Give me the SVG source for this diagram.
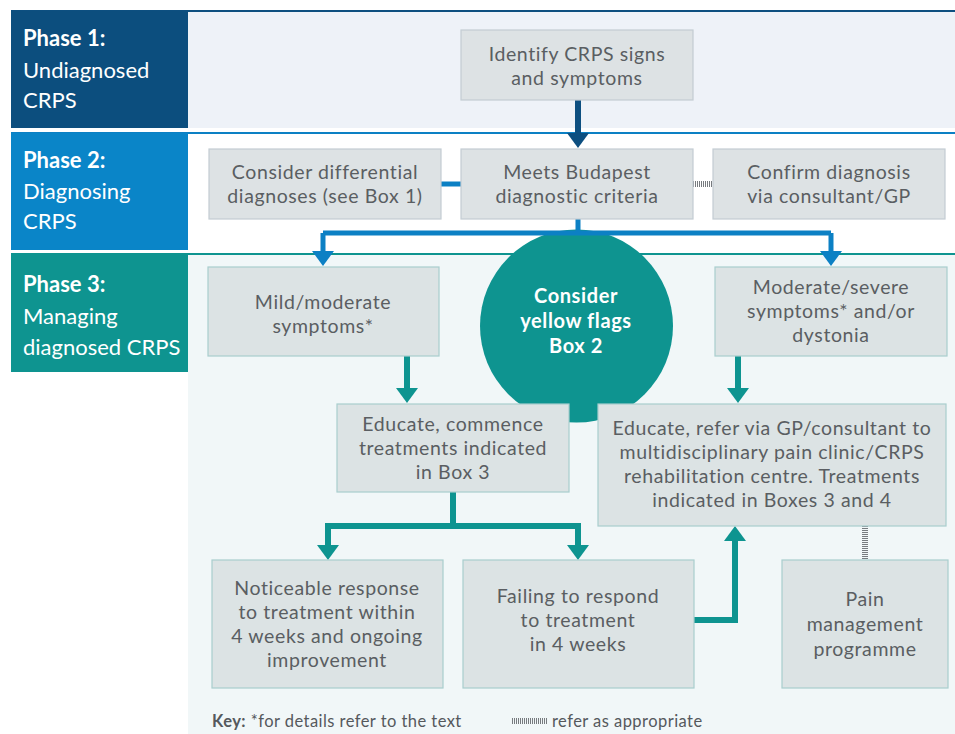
<svg xmlns="http://www.w3.org/2000/svg" width="955" height="734" viewBox="0 0 955 734">
<defs>
<style>
.box{fill:#dde2e4;stroke:#c3ccd3;stroke-width:1.2}
.box3{fill:#dce3e4;stroke:#a8cdce;stroke-width:1.2}
.t{font-family:"Lato","Open Sans",sans-serif;font-size:19.5px;letter-spacing:0.6px;fill:#5a5e62;text-anchor:middle}
.ph{font-family:"Lato","Open Sans",sans-serif;font-size:22px;fill:#ffffff}
.phb{font-weight:bold}
.ct{font-family:"Lato","Open Sans",sans-serif;font-size:20px;letter-spacing:0.6px;font-weight:bold;fill:#ffffff;text-anchor:middle}
.key{font-family:"Lato","Open Sans",sans-serif;font-size:16.5px;letter-spacing:0.45px;fill:#55595d}
.c1{fill:none;stroke:#0d4f80;stroke-width:6}
.c2{fill:none;stroke:#0c80c4;stroke-width:5}
.c3{fill:none;stroke:#0e9490;stroke-width:6}
.dot{fill:none;stroke:#777b7f;stroke-width:6;stroke-dasharray:1 1}
</style>
<marker id="a1" viewBox="0 0 15 22" refX="5" refY="11" markerWidth="15" markerHeight="22" orient="auto" markerUnits="userSpaceOnUse"><path d="M0,0 L15,11 L0,22 z" fill="#0d4f80"/></marker>
<marker id="a2" viewBox="0 0 15 22" refX="5" refY="11" markerWidth="15" markerHeight="22" orient="auto" markerUnits="userSpaceOnUse"><path d="M0,0 L15,11 L0,22 z" fill="#0c80c4"/></marker>
<marker id="a3" viewBox="0 0 15 22" refX="5" refY="11" markerWidth="15" markerHeight="22" orient="auto" markerUnits="userSpaceOnUse"><path d="M0,0 L15,11 L0,22 z" fill="#0e9490"/></marker>
</defs>
<rect width="955" height="734" fill="#ffffff"/>
<g id="bands">
<rect x="188" y="12" width="767" height="116" fill="#eef2f8"/>
<rect x="188" y="255" width="767" height="479" fill="#f1f7f8"/>
<line x1="11" y1="11" x2="955" y2="11" stroke="#0d4f80" stroke-width="2"/>
<line x1="11" y1="133" x2="955" y2="133" stroke="#0c80c4" stroke-width="2"/>
<line x1="11" y1="254" x2="955" y2="254" stroke="#0e9490" stroke-width="2"/>
</g>
<g id="phase1">
<rect x="11" y="11" width="177" height="117" fill="#0c4e7e"/>
<text class="ph" x="23" y="46"><tspan class="phb">Phase 1:</tspan><tspan x="23" y="78">Undiagnosed</tspan><tspan x="23" y="108">CRPS</tspan></text>
</g>
<g id="phase2">
<rect x="11" y="133" width="177" height="117" fill="#0a85c8"/>
<text class="ph" x="23" y="168"><tspan class="phb">Phase 2:</tspan><tspan x="23" y="199">Diagnosing</tspan><tspan x="23" y="229">CRPS</tspan></text>
</g>
<g id="phase3">
<rect x="11" y="254" width="177" height="118" fill="#0e9490"/>
<text class="ph" x="23" y="292"><tspan class="phb">Phase 3:</tspan><tspan x="23" y="324">Managing</tspan><tspan x="23" y="355">diagnosed CRPS</tspan></text>
</g>
<g id="yellowflags">
<circle cx="576.5" cy="326" r="96.5" fill="#0e9490"/>
<text class="ct" x="576" y="303">Consider</text>
<text class="ct" x="576" y="328">yellow flags</text>
<text class="ct" x="576" y="353">Box 2</text>
</g>
<g id="connectors">
<path class="c1" d="M578,100 V138" marker-end="url(#a1)"/>
<path class="c2" d="M441,184 H461"/>
<path class="dot" d="M693,184 H713"/>
<path class="c2" d="M578,219 V233 M323,233 H831"/>
<path class="c2" d="M323,233 V256" marker-end="url(#a2)"/>
<path class="c2" d="M831,233 V256" marker-end="url(#a2)"/>
<path class="c3" d="M407,356 V393" marker-end="url(#a3)"/>
<path class="c3" d="M738,356 V393" marker-end="url(#a3)"/>
<path class="c3" d="M453,492 V526 M325,526 H581"/>
<path class="c3" d="M328,526 V550" marker-end="url(#a3)"/>
<path class="c3" d="M578,526 V550" marker-end="url(#a3)"/>
<path class="c3" d="M694,620 H735 V536" marker-end="url(#a3)"/>
<path class="dot" d="M865,526 V560"/>
</g>
<g id="identify">
<rect class="box" x="461" y="30" width="232" height="70"/>
<text class="t" x="577" y="61">Identify CRPS signs</text>
<text class="t" x="577" y="85">and symptoms</text>
</g>
<g id="differential">
<rect class="box" x="209" y="149" width="232" height="70"/>
<text class="t" x="325" y="179">Consider differential</text>
<text class="t" x="325" y="203">diagnoses (see Box 1)</text>
</g>
<g id="budapest">
<rect class="box" x="461" y="149" width="232" height="70"/>
<text class="t" x="577" y="179">Meets Budapest</text>
<text class="t" x="577" y="203">diagnostic criteria</text>
</g>
<g id="confirm">
<rect class="box" x="713" y="149" width="232" height="70"/>
<text class="t" x="829" y="179">Confirm diagnosis</text>
<text class="t" x="829" y="203">via consultant/GP</text>
</g>
<g id="mild">
<rect class="box3" x="208" y="267" width="231" height="89"/>
<text class="t" x="323" y="309">Mild/moderate</text>
<text class="t" x="323" y="333">symptoms*</text>
</g>
<g id="severe">
<rect class="box3" x="715" y="267" width="232" height="89"/>
<text class="t" x="831" y="294">Moderate/severe</text>
<text class="t" x="831" y="318">symptoms* and/or</text>
<text class="t" x="831" y="342">dystonia</text>
</g>
<g id="educate1">
<rect class="box3" x="337" y="404" width="232" height="88"/>
<text class="t" x="453" y="431">Educate, commence</text>
<text class="t" x="453" y="455">treatments indicated</text>
<text class="t" x="453" y="479">in Box 3</text>
</g>
<g id="educate2">
<rect class="box3" x="598" y="404" width="348" height="122"/>
<text class="t" x="772" y="435">Educate, refer via GP/consultant to</text>
<text class="t" x="772" y="459">multidisciplinary pain clinic/CRPS</text>
<text class="t" x="772" y="483">rehabilitation centre. Treatments</text>
<text class="t" x="772" y="507">indicated in Boxes 3 and 4</text>
</g>
<g id="noticeable">
<rect class="box3" x="212" y="560" width="231" height="128"/>
<text class="t" x="327" y="595">Noticeable response</text>
<text class="t" x="327" y="619">to treatment within</text>
<text class="t" x="327" y="643">4 weeks and ongoing</text>
<text class="t" x="327" y="667">improvement</text>
</g>
<g id="failing">
<rect class="box3" x="463" y="560" width="231" height="128"/>
<text class="t" x="578" y="603">Failing to respond</text>
<text class="t" x="578" y="627">to treatment</text>
<text class="t" x="578" y="651">in 4 weeks</text>
</g>
<g id="pain">
<rect class="box3" x="782" y="560" width="166" height="128"/>
<text class="t" x="865" y="606">Pain</text>
<text class="t" x="865" y="631">management</text>
<text class="t" x="865" y="656">programme</text>
</g>
<g id="key">
<text class="key" x="212" y="727"><tspan font-weight="bold">Key:</tspan> *for details refer to the text</text>
<path class="dot" d="M512,721 H548"/>
<text class="key" x="552" y="727">refer as appropriate</text>
</g>
</svg>
